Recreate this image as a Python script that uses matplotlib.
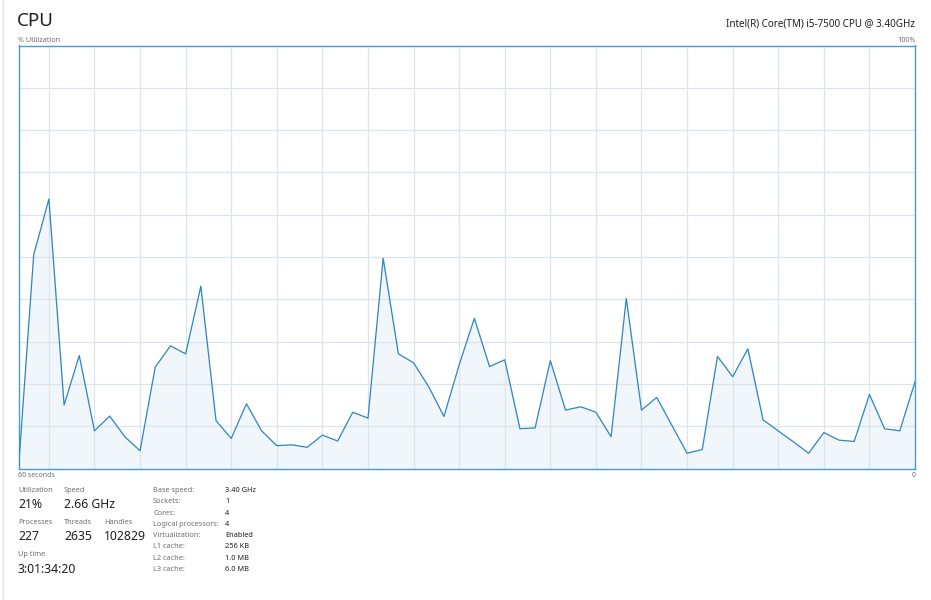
import numpy as np
import matplotlib
matplotlib.use("Agg")
import matplotlib.pyplot as plt

plt.rcParams['font.family'] = ['Noto Sans', 'DejaVu Sans']

# CPU utilization (%) over last 60 seconds (oldest -> newest)
utilization = [0.0, 50.5, 63.7, 15.0, 26.7, 8.9, 12.4, 7.5, 4.2, 24.0,
               29.0, 27.1, 43.1, 11.3, 7.1, 15.3, 8.9, 5.4, 5.6, 5.0,
               7.9, 6.5, 13.3, 11.9, 49.7, 27.1, 25.0, 19.3, 12.3, 24.5,
               35.5, 24.1, 25.7, 9.4, 9.6, 25.5, 13.8, 14.6, 13.3, 7.5,
               40.2, 13.8, 16.8, 10.2, 3.6, 4.5, 26.5, 21.7, 28.3, 11.5,
               8.9, 6.3, 3.6, 8.5, 6.7, 6.4, 17.5, 9.4, 8.9, 20.5]

title = "CPU"
cpu_name = "Intel(R) Core(TM) i5-7500 CPU @ 3.40GHz"
stats_left = [("Utilization", "21%"), ("Speed", "2.66 GHz")]
stats_mid = [("Processes", "227"), ("Threads", "2635"), ("Handles", "102829")]
uptime = ("Up time", "3:01:34:20")
spec_labels = ["Base speed:", "Sockets:", "Cores:", "Logical processors:",
               "Virtualization:", "L1 cache:", "L2 cache:", "L3 cache:"]
spec_values = ["3.40 GHz", "1", "4", "4", "Enabled", "256 KB", "1.0 MB", "6.0 MB"]

W, H = 931, 600
fig = plt.figure(figsize=(W / 100, H / 100), dpi=100)
fig.patch.set_facecolor("white")

def fx(px):
    return px / W

def fy(py):
    return 1 - py / H

L, R, T, B = 18.5, 915, 45.5, 468.5
ax = fig.add_axes([fx(L), fy(B), fx(R) - fx(L), fy(T) - fy(B)])

LINE = "#2f86c0"
FILL = "#f1f6fa"
GRID = "#dbe5ee"

x = np.arange(len(utilization))
ax.fill_between(x, utilization, 0, color=FILL, zorder=1)
ax.plot(x, utilization, color=LINE, lw=0.9, zorder=3)
ax.set_xlim(0, len(utilization) - 1)
ax.set_ylim(0, 100)
for yv in range(10, 100, 10):
    ax.axhline(yv, color=GRID, lw=0.9, zorder=2)
for xv in range(2, len(utilization) - 1, 3):
    ax.axvline(xv, color=GRID, lw=0.9, zorder=2)
ax.set_xticks([])
ax.set_yticks([])
for s in ax.spines.values():
    s.set_color("#4a9bd0")
    s.set_linewidth(1.0)

# left window edge
fig.add_artist(plt.Line2D([fx(2.5), fx(2.5)], [0, 1], color="#e6e6e6", lw=1))

GRAY = "#6f6f6f"
DARK = "#1e1e1e"

fig.text(fx(16.5), fy(21), title, fontsize=13.5, color=DARK, va="center", ha="left")
fig.text(fx(915), fy(24), cpu_name, fontsize=7.1, color=DARK, va="center", ha="right")
fig.text(fx(18), fy(40), "% Utilization", fontsize=5.2, color=GRAY, va="center", ha="left")
fig.text(fx(916), fy(40), "100%", fontsize=5.2, color=GRAY, va="center", ha="right")
fig.text(fx(18), fy(475.5), "60 seconds", fontsize=5.0, color=GRAY, va="center", ha="left")
fig.text(fx(916), fy(475.5), "0", fontsize=5.0, color=GRAY, va="center", ha="right")

LABEL_FS, VALUE_FS = 5.3, 8.8
xs_left = [18, 64]
for (lab, val), xp in zip(stats_left, xs_left):
    fig.text(fx(xp), fy(490.5), lab, fontsize=LABEL_FS, color=GRAY, va="center")
    fig.text(fx(xp), fy(505), val, fontsize=VALUE_FS, color=DARK, va="center")
xs_mid = [18, 64, 104]
for (lab, val), xp in zip(stats_mid, xs_mid):
    fig.text(fx(xp), fy(522.5), lab, fontsize=LABEL_FS, color=GRAY, va="center")
    fig.text(fx(xp), fy(537), val, fontsize=VALUE_FS, color=DARK, va="center")
fig.text(fx(18), fy(555), uptime[0], fontsize=LABEL_FS, color=GRAY, va="center")
fig.text(fx(18), fy(569.5), uptime[1], fontsize=VALUE_FS, color=DARK, va="center")

spec_y0, spec_dy = 490.5, 11.3
for i, (lab, val) in enumerate(zip(spec_labels, spec_values)):
    yy = spec_y0 + i * spec_dy
    fig.text(fx(153), fy(yy), lab, fontsize=5.3, color=GRAY, va="center")
    fig.text(fx(225), fy(yy), val, fontsize=5.3, color=DARK, va="center",
             fontweight="semibold" if lab == "Virtualization:" else "normal")

fig.savefig("out.png", dpi=100, facecolor="white")
